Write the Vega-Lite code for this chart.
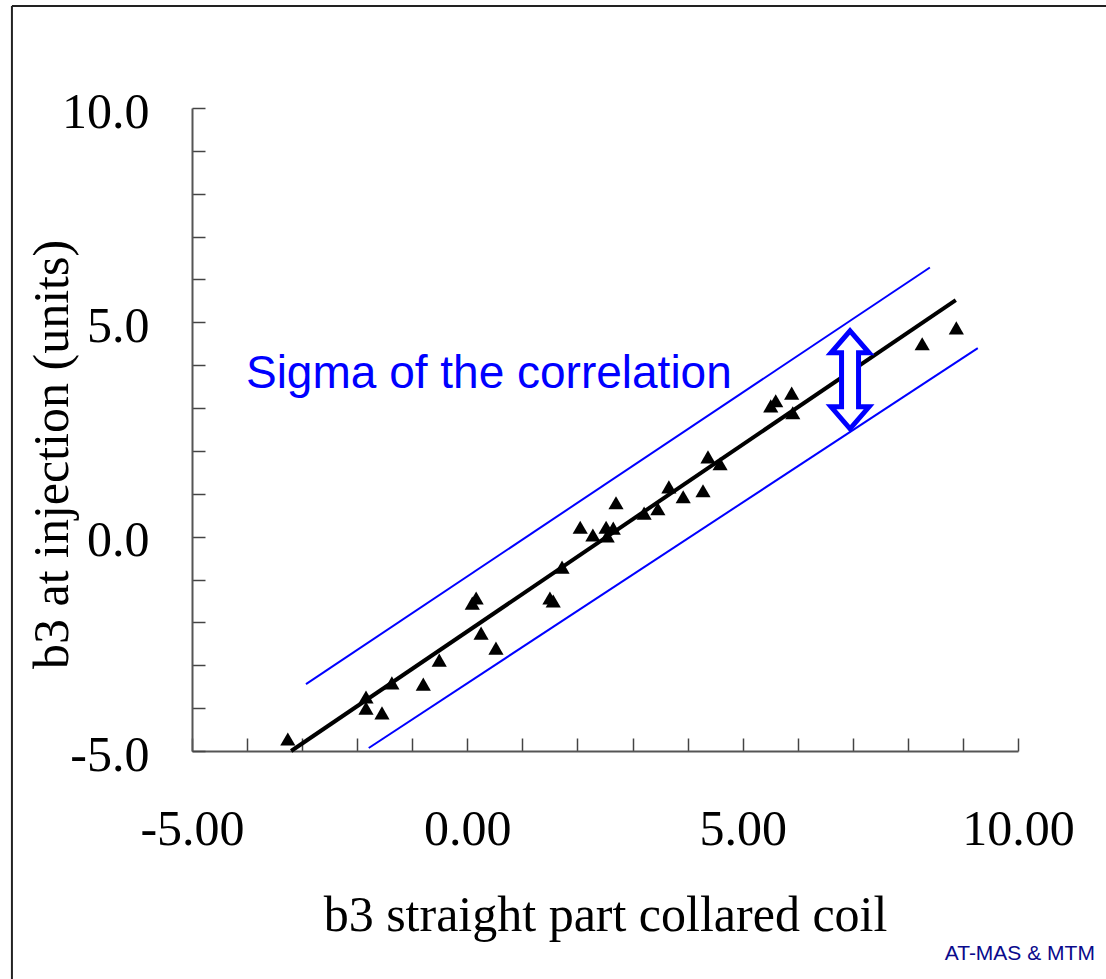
{
  "$schema": "https://vega.github.io/schema/vega-lite/v6.json",
  "autosize": {"type": "none"},
  "width": 826,
  "height": 643,
  "padding": {"left": 192, "top": 108, "right": 88, "bottom": 228},
  "background": "white",
  "config": {"view": {"stroke": null}},
  "datasets": {
    "pts": [
      {"x": -3.26, "y": -4.72}, {"x": -1.84, "y": -3.74}, {"x": -1.84, "y": -4.00},
      {"x": -1.55, "y": -4.11}, {"x": -1.37, "y": -3.41}, {"x": -0.80, "y": -3.44},
      {"x": -0.51, "y": -2.88}, {"x": 0.09, "y": -1.55}, {"x": 0.16, "y": -1.43},
      {"x": 0.25, "y": -2.25}, {"x": 0.52, "y": -2.60}, {"x": 1.50, "y": -1.43},
      {"x": 1.56, "y": -1.50}, {"x": 1.72, "y": -0.71}, {"x": 2.05, "y": 0.22},
      {"x": 2.28, "y": 0.04}, {"x": 2.52, "y": 0.22}, {"x": 2.54, "y": 0.02},
      {"x": 2.65, "y": 0.20}, {"x": 2.70, "y": 0.79}, {"x": 3.21, "y": 0.55},
      {"x": 3.46, "y": 0.65}, {"x": 3.66, "y": 1.16}, {"x": 3.92, "y": 0.93},
      {"x": 4.28, "y": 1.07}, {"x": 4.37, "y": 1.86}, {"x": 4.59, "y": 1.70},
      {"x": 5.51, "y": 3.05}, {"x": 5.60, "y": 3.17}, {"x": 5.89, "y": 3.35},
      {"x": 5.91, "y": 2.89}, {"x": 8.26, "y": 4.50}, {"x": 8.88, "y": 4.87}
    ],
    "bands": [
      {"series": "upper", "x": -2.93, "y": -3.44}, {"series": "upper", "x": 8.40, "y": 6.28},
      {"series": "lower", "x": -1.79, "y": -4.93}, {"series": "lower", "x": 9.27, "y": 4.40}
    ],
    "fit": [{"x": -3.20, "y": -5.0}, {"x": 8.87, "y": 5.52}],
    "arrow": [{"x": 6.95, "y": 3.66}],
    "note": [{"x": -4.02, "y": 3.47, "text": "Sigma of the correlation"}],
    "credit": [{"x": 8.67, "y": -9.87, "text": "AT-MAS & MTM"}],
    "frame": [{"x": -8.27, "x2": 12.5, "y": 12.38, "y2": -11.5}]
  },
  "encoding": {
    "x": {
      "field": "x", "type": "quantitative",
      "scale": {"domain": [-5, 10], "nice": false, "zero": false},
      "axis": {
        "title": "b3 straight part collared coil",
        "values": [-5, -4, -3, -2, -1, 0, 1, 2, 3, 4, 5, 6, 7, 8, 9, 10],
        "labelExpr": "datum.value % 5 === 0 ? (datum.value < 0 ? '-' : '') + format(abs(datum.value), '.2f') : ''",
        "labelFont": "Liberation Serif", "labelFontSize": 50, "labelColor": "black",
        "labelFlush": false, "labelOverlap": false, "labelPadding": 66,
        "tickSize": -13,
        "tickColor": "#444", "tickWidth": 1.5,
        "domainColor": "#555", "domainWidth": 2, "grid": false,
        "titleFont": "Liberation Serif", "titleFontSize": 50, "titleFontWeight": "normal", "titleColor": "black",
        "titleX": 413, "titleY": 179, "titleBaseline": "alphabetic", "titleAlign": "center"
      }
    },
    "y": {
      "field": "y", "type": "quantitative",
      "scale": {"domain": [-5, 10], "nice": false, "zero": false},
      "axis": {
        "title": "b3 at injection (units)",
        "values": [-5, -4, -3, -2, -1, 0, 1, 2, 3, 4, 5, 6, 7, 8, 9, 10],
        "labelExpr": "datum.value % 5 === 0 ? (datum.value < 0 ? '-' : '') + format(abs(datum.value), '.1f') : ''",
        "labelFont": "Liberation Serif", "labelFontSize": 50, "labelColor": "black",
        "labelFlush": false, "labelOverlap": false, "labelPadding": 56, "labelOffset": 4,
        "tickSize": -13,
        "tickColor": "#444", "tickWidth": 1.5,
        "domainColor": "#555", "domainWidth": 2, "grid": false,
        "titleFont": "Liberation Serif", "titleFontSize": 50, "titleFontWeight": "normal", "titleColor": "black",
        "titleX": -125, "titleY": 346, "titleBaseline": "alphabetic", "titleAlign": "center", "titleAngle": -90
      }
    }
  },
  "layer": [
    {
      "data": {"name": "frame"},
      "mark": {"type": "rule", "color": "#222", "strokeWidth": 2, "clip": false},
      "encoding": {
        "x": {"field": "x", "type": "quantitative"},
        "x2": {"field": "x2"},
        "y": {"field": "y", "type": "quantitative"}
      }
    },
    {
      "data": {"name": "frame"},
      "mark": {"type": "rule", "color": "#222", "strokeWidth": 2, "clip": false},
      "encoding": {
        "x": {"field": "x", "type": "quantitative"},
        "y": {"field": "y", "type": "quantitative"},
        "y2": {"field": "y2"}
      }
    },
    {
      "data": {"name": "bands"},
      "mark": {"type": "line", "color": "#0000ff", "strokeWidth": 2},
      "encoding": {"detail": {"field": "series"}}
    },
    {
      "data": {"name": "fit"},
      "mark": {"type": "line", "color": "black", "strokeWidth": 4},
      "encoding": {}
    },
    {
      "data": {"name": "pts"},
      "mark": {"type": "point", "shape": "triangle-up", "filled": true, "color": "black", "opacity": 1, "size": 230},
      "encoding": {}
    },
    {
      "data": {"name": "arrow"},
      "mark": {
        "type": "point",
        "shape": "M0,-0.98L0.38,-0.54L0.17,-0.54L0.17,0.54L0.38,0.54L0,0.98L-0.38,0.54L-0.17,0.54L-0.17,-0.54L-0.38,-0.54Z",
        "size": 10000, "filled": false, "fill": "white", "fillOpacity": 1, "stroke": "#0000ff", "strokeWidth": 5, "opacity": 1, "strokeJoin": "miter"
      },
      "encoding": {}
    },
    {
      "data": {"name": "note"},
      "mark": {"type": "text", "align": "left", "baseline": "alphabetic", "font": "Liberation Sans", "fontSize": 46, "color": "#0000ff"},
      "encoding": {"text": {"field": "text"}}
    },
    {
      "data": {"name": "credit"},
      "mark": {"type": "text", "align": "left", "baseline": "alphabetic", "font": "Liberation Sans", "fontSize": 21, "color": "#0a0a8c", "clip": false},
      "encoding": {"text": {"field": "text"}}
    }
  ]
}
